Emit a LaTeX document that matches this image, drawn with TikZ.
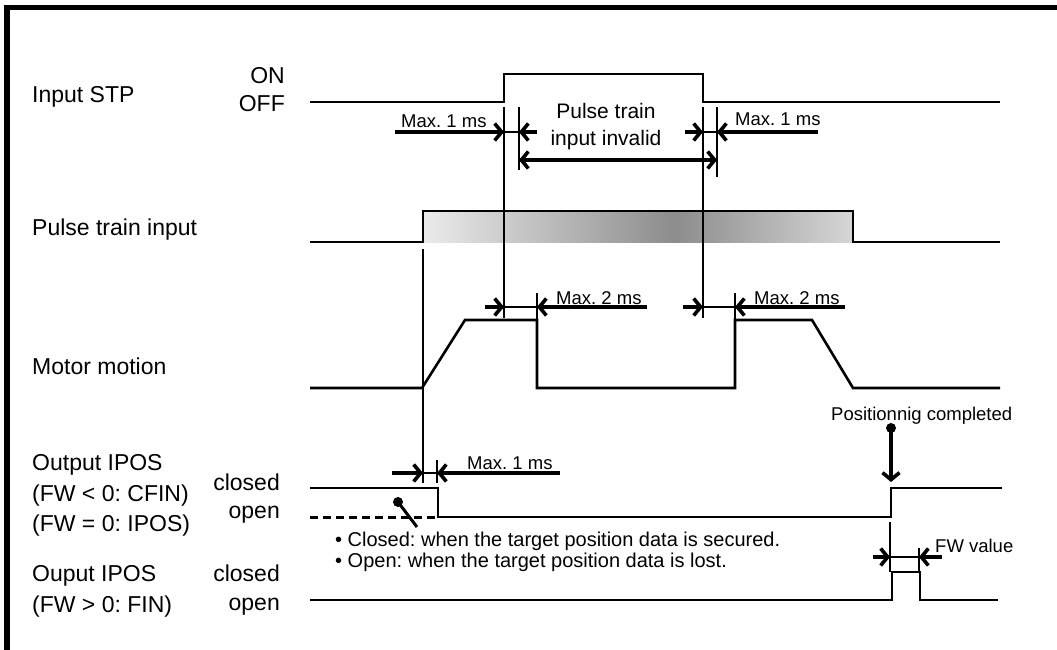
\documentclass[tikz,border=0pt]{standalone}
\usepackage{fontspec}
\setmainfont{Liberation Sans}
\frenchspacing
\usetikzlibrary{arrows.meta}
\begin{document}
\begin{tikzpicture}[x=1pt,y=-1pt,
  wave/.style={line width=2.6pt, line join=miter},
  guide/.style={line width=1.1pt},
  arr/.style={line width=3.6pt, -{Straight Barb[length=7pt,width=17pt]}},
  darr/.style={line width=3.6pt, {Straight Barb[length=7pt,width=17pt]}-{Straight Barb[length=7pt,width=17pt]}},
  big/.style={font=\fontsize{23}{26}\selectfont, inner sep=0pt},
  mid/.style={font=\fontsize{21}{24}\selectfont, inner sep=0pt},
  sml/.style={font=\fontsize{18.5}{21}\selectfont, inner sep=0pt},
  blt/.style={font=\fontsize{20}{23}\selectfont, inner sep=0pt}]
\useasboundingbox (0,0) rectangle (1057,650);
% frame
\fill[black] (4,5) rectangle (1057,10);
\fill[black] (4,5) rectangle (10,650);

% ---------- left labels ----------
\node[big, anchor=base west] (l1) at (32,102.5) {Input STP};
\node[big, anchor=base east] (on1) at (285,84) {ON};
\node[big, anchor=base east] (off1) at (285,111.5) {OFF};
\node[big, anchor=base west] (l2) at (32,235) {Pulse train input};
\node[big, anchor=base west] (l3) at (32,374) {Motor motion};
\node[big, anchor=base west] (l4a) at (32,470.5) {Output IPOS};
\node[big, anchor=base west] (l4b) at (32,501) {(FW < 0: CFIN)};
\node[big, anchor=base west] (l4c) at (32,531) {(FW = 0: IPOS)};
\node[big, anchor=base east] (c4) at (280,490) {closed};
\node[big, anchor=base east] (o4) at (280,518) {open};
\node[big, anchor=base west] (l5a) at (32,581) {Ouput IPOS};
\node[big, anchor=base west] (l5b) at (32,612) {(FW > 0: FIN)};
\node[big, anchor=base east] (c5) at (280,581) {closed};
\node[big, anchor=base east] (o5) at (280,610) {open};

% ---------- Input STP ----------
\draw[wave] (310,102) -- (504,102) -- (504,74) -- (703,74) -- (703,102) -- (1000,102);

% ---------- Pulse train input ----------
\shade[left color=black!8, right color=black!45] (423,211) rectangle (675,242);
\shade[left color=black!45, right color=black!16] (675,211) rectangle (853,242);
\draw[wave] (310,242) -- (423,242) -- (423,211) -- (853,211) -- (853,242) -- (1000,242);

% ---------- Motor motion ----------
\draw[wave] (310,388) -- (422,388) -- (465,320) -- (537,320) -- (537,388) -- (735,388) -- (735,320) -- (812,320) -- (853,388) -- (1000,388);

% ---------- Output IPOS (CFIN/IPOS) ----------
\draw[wave] (310,488) -- (438,488) -- (438,517) -- (891,517) -- (891,488) -- (1002,488);
\draw[line width=3pt, dash pattern=on 8pt off 5pt] (310,517) -- (435,517);

% ---------- Output IPOS (FIN) ----------
\draw[wave] (310,600) -- (892,600) -- (892,572) -- (920,572) -- (920,600) -- (998,600);

% ---------- guide lines ----------
\draw[guide] (504,107) -- (504,318);
\draw[guide] (519,107) -- (519,170);
\draw[guide] (703,107) -- (703,318);
\draw[guide] (717,107) -- (717,177);
\draw[guide] (504,132) -- (519,132);
\draw[guide] (703,132) -- (717,132);
\draw[guide] (423,249) -- (423,483);
\draw[guide] (437,460) -- (437,483);
\draw[guide] (423,473) -- (437,473);
\draw[guide] (537,293) -- (537,320);
\draw[guide] (735,293) -- (735,320);
\draw[guide] (504,307) -- (537,307);
\draw[guide] (703,307) -- (735,307);
\draw[guide] (890,522) -- (890,572);
\draw[guide] (919,548) -- (919,572);
\draw[guide] (890,557) -- (919,557);

% ---------- arrows ----------
\draw[arr] (395,132) -- (504,132);
\draw[arr] (537,132) -- (519,132);
\draw[arr] (685,132) -- (703,132);
\draw[arr] (818,132) -- (717,132);
\draw[darr] (519,160) -- (717,160);
\draw[arr] (485,307) -- (504,307);
\draw[arr] (647,307) -- (537,307);
\draw[arr] (683,307) -- (703,307);
\draw[arr] (845,307) -- (735,307);
\draw[arr] (392,473) -- (423,473);
\draw[arr] (560,473) -- (437,473);
\draw[arr] (873,557) -- (890,557);
\draw[arr] (942,557) -- (919,557);

% ---------- labels in diagram ----------
\node[sml, anchor=base west] (m1) at (401,128) {Max. 1 ms};
\node[mid, anchor=base] (pti1) at (606,119) {Pulse train};
\node[mid, anchor=base] (pti2) at (606,146) {input invalid};
\node[sml, anchor=base west] (m2) at (735,126) {Max. 1 ms};
\node[sml, anchor=base west] (m3) at (556,304) {Max. 2 ms};
\node[sml, anchor=base west] (m4) at (754,304) {Max. 2 ms};
\node[sml, anchor=base west] (m5) at (467,469) {Max. 1 ms};
\node[sml, anchor=base west] (pc) at (831,420) {Positionnig completed};
\node[sml, anchor=base west] (fw) at (935,552) {FW value};
\node[blt, anchor=base west] (b1) at (335,546.5) {• Closed: when the target position data is secured.};
\node[blt, anchor=base west] (b2) at (335,567) {• Open: when the target position data is lost.};

% ---------- markers ----------
\coordinate (pcdot) at (891,428);
\coordinate (pctip) at (891,482);
\fill (pcdot) circle (5pt);
\draw[arr] (pcdot) -- (pctip);
\coordinate (lpdot) at (398,502);
\coordinate (lpend) at (417,527);
\fill (lpdot) circle (5pt);
\draw[line width=3pt] (lpdot) -- (lpend);
\end{tikzpicture}
\end{document}
